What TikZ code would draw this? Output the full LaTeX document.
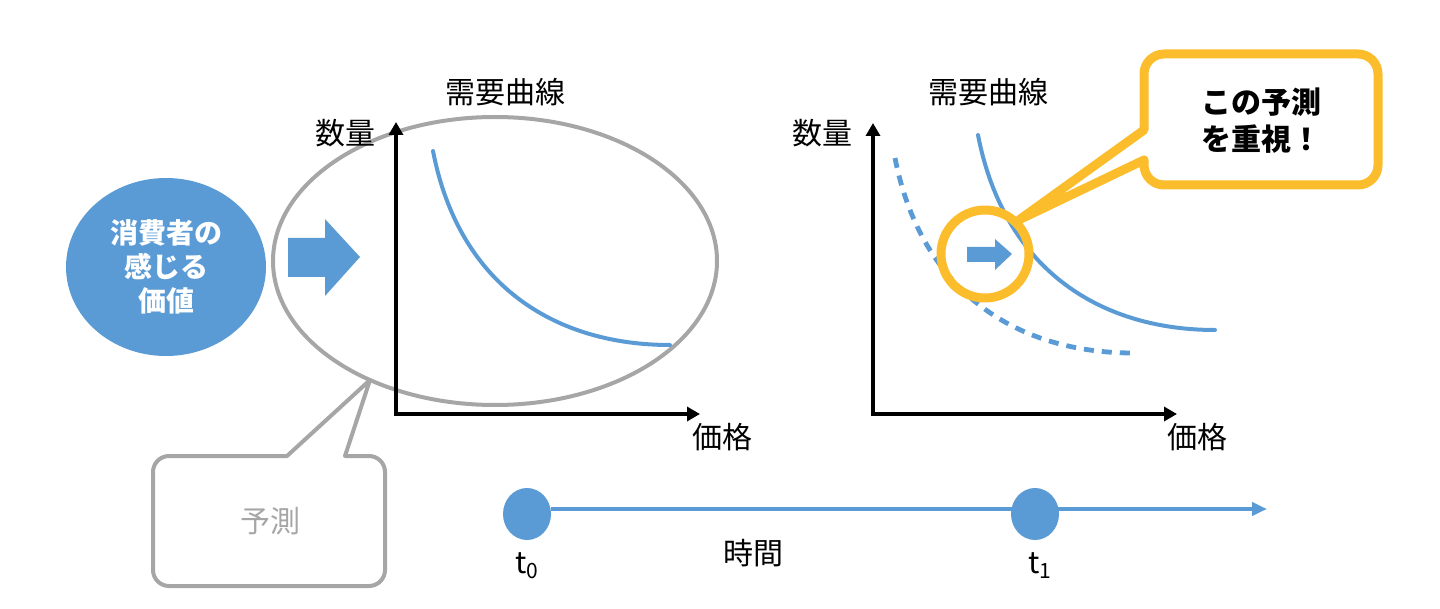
\documentclass[tikz,border=0pt]{standalone}
\usepackage{fontspec}
\setmainfont{Noto Sans CJK JP}
\usetikzlibrary{arrows.meta, shapes.geometric}

\definecolor{valblue}{RGB}{91,155,213}
\definecolor{callgray}{RGB}{166,166,166}
\definecolor{focusgold}{RGB}{251,189,44}

\begin{document}
\begin{tikzpicture}[x=0.5pt, y=-0.5pt, line cap=round, line join=round,
		axisline/.style={{Triangle[length=6.5pt,width=7pt]}-{Triangle[length=6.5pt,width=7pt]}, line width=2pt, line cap=butt, line join=miter},
		txt/.style={inner sep=0pt, font=\fontsize{15}{18}\selectfont},
		demand/.style={valblue, line width=2pt},
		dot/.style={ellipse, fill=valblue, minimum width=24pt, minimum height=26pt, inner sep=0pt}]
		% Bounding box definition
		\useasboundingbox (0,0) rectangle (1440,609);
		
		% Consumer's perceived value
		\node[ellipse, fill=valblue, minimum width=100pt, minimum height=89pt, inner sep=0pt,
			text=white, align=center, font=\bfseries\fontsize{14}{17}\selectfont] (value) at (166,267) {消費者の\\感じる\\価値};
		
		% Block arrow into the forecast
		\fill[valblue] (288,238) -- (325,238) -- (325,219) -- (360,257) -- (325,296) -- (325,277) -- (288,277) -- cycle;
		
		% Forecast region (gray ellipse)
		\node[ellipse, draw=callgray, line width=2pt, minimum width=222pt, minimum height=144pt] (forecast) at (495,261) {};
		
		% Left graph: axes and labels
		\draw[axisline] (396,122) -- (396,414) -- (700,414);
		\node[txt] (title1) at (505,92) {需要曲線};
		\node[txt] (qty1) at (345,133) {数量};
		\node[txt] (price1) at (722,437) {価格};
		
		% Demand curve at t0
		\draw[demand] (433,151) .. controls (460,290) and (560,345) .. (670,345);
		
		% Callout "forecast" pointing to the ellipse
		\draw[callgray, line width=2pt] (370,380) -- (345,456) [rounded corners=8pt] -- (385,456) -- (385,586)
			-- (153,586) -- (153,456) [sharp corners] -- (287,456) -- (370,380);
		\node[txt, text=callgray] (guess) at (270,521) {予測};
		
		% Right graph: axes and labels
		\draw[axisline] (873,123) -- (873,414) -- (1177,414);
		\node[txt] (title2) at (988,92) {需要曲線};
		\node[txt] (qty2) at (822,133) {数量};
		\node[txt] (price2) at (1197,437) {価格};
		
		% Old (dashed) and shifted demand curves
		\draw[demand, line width=2.4pt, line cap=butt, dash pattern=on 5pt off 4pt] (895,158) .. controls (922,295) and (1020,353) .. (1133,353);
		\draw[demand] (978,135) .. controls (1005,274) and (1105,330) .. (1215,330);
		
		% Small shift arrow and gold circle
		\fill[valblue] (967,247) -- (995,247) -- (995,239) -- (1012,254) -- (995,270) -- (995,262) -- (967,262) -- cycle;
		\node[circle, draw=focusgold, line width=4.5pt, minimum size=44pt, inner sep=0pt] (focus) at (985,254) {};
		
		% Callout "emphasise this forecast"
		\draw[focusgold, line width=4.5pt, fill=white] (focus.45) -- (1144,160) [rounded corners=10pt] -- (1144,185) -- (1378,185)
			-- (1378,54) -- (1144,54) [sharp corners] -- (1144,130) -- (focus.45);
		\node[txt, align=center, font=\bfseries\fontsize{15}{18.5}\selectfont] (stress) at (1261,121) {この予測\\を重視！};
		
		% Time axis
		\node[dot] (t0) at (527,514) {};
		\node[dot] (t1) at (1035,514) {};
		\coordinate (tend) at (1267,509);
		\draw[valblue, line width=2pt, line cap=butt, -{Triangle[length=7.5pt,width=6.5pt]}] (t0.east |- tend) -- (tend);
		\node[txt] (t0lbl) at (527,566) {t\textsubscript{0}};
		\node[txt] (t1lbl) at (1040,566) {t\textsubscript{1}};
		\node[txt] (time) at (753,553) {時間};
	\end{tikzpicture}
\end{document}
